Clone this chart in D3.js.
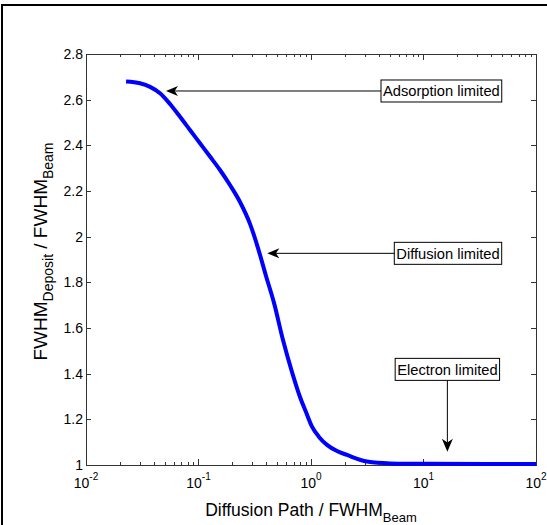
<!DOCTYPE html>
<html>
<head>
<meta charset="utf-8">
<script src="https://cdn.jsdelivr.net/npm/d3@7"></script>
<style>
  html, body { margin: 0; padding: 0; background: #fff; }
  svg { display: block; }
  text { font-family: Arial, "Liberation Sans", Helvetica, sans-serif; fill: #000; }
</style>
</head>
<body>
<svg id="chart" width="547" height="525"></svg>
<script>
// ---- data ----
const pathRatio = [0.0227, 0.0302, 0.0371, 0.0455, 0.0558, 0.0685, 0.0840, 0.1031, 0.1265, 0.1553, 0.1905, 0.2338, 0.2870, 0.3380, 0.3981, 0.4690, 0.5638, 0.6780, 0.7985, 0.9028, 1.0207, 1.1779, 1.3875, 1.7025, 2.0893, 3.146, 5.036, 11.42, 100];
const fwhmRatio = [2.680, 2.672, 2.656, 2.628, 2.581, 2.525, 2.467, 2.409, 2.351, 2.292, 2.226, 2.152, 2.056, 1.950, 1.828, 1.710, 1.547, 1.407, 1.298, 1.232, 1.168, 1.123, 1.088, 1.061, 1.044, 1.015, 1.007, 1.005, 1.004];

const yTicks = [1, 1.2, 1.4, 1.6, 1.8, 2, 2.2, 2.4, 2.6, 2.8];
const yTickLabels = ["1", "1.2", "1.4", "1.6", "1.8", "2", "2.2", "2.4", "2.6", "2.8"];
const xTicks = [0.01, 0.1, 1, 10, 100];
const xTickExponents = ["-2", "-1", "0", "1", "2"];

const annLabels = ["Adsorption limited", "Diffusion limited", "Electron limited"];
const annTipX = [0.0514, 0.409, 16.3];
const annTipY = [2.638, 1.927, 1.058];
const annBoxX = [4.19, 5.50, 16.3];     // left edge (horizontal arrows) or centre (vertical)
const annBoxY = [2.638, 1.927, 1.467];  // centre (horizontal) or top (vertical)
const annDir = ["left", "left", "down"];

// ---- layout ----
const svg = d3.select("#chart");
const L = 86, R = 536, T = 54, B = 465;
const x = d3.scaleLog().domain([0.01, 100]).range([L, R]);
const y = d3.scaleLinear().domain([1, 2.8]).range([B, T]);
const axisColor = "#333";

// outer frame (right/bottom edges fall outside the picture)
svg.append("rect").attr("x", 2).attr("y", 5).attr("width", 600).attr("height", 600)
  .attr("fill", "none").attr("stroke", "#000").attr("stroke-width", 2);

// axes box
svg.append("rect").attr("x", L).attr("y", T).attr("width", R - L).attr("height", B - T)
  .attr("fill", "none").attr("stroke", axisColor).attr("stroke-width", 1).attr("shape-rendering", "crispEdges");

// y ticks (both sides, inward)
const gy = svg.append("g").attr("shape-rendering", "crispEdges");
yTicks.forEach((v, i) => {
  const py = Math.round(y(v)) + 0.5;
  gy.append("line").attr("x1", L).attr("x2", L + 5).attr("y1", py).attr("y2", py).attr("stroke", axisColor);
  gy.append("line").attr("x1", R - 5).attr("x2", R).attr("y1", py).attr("y2", py).attr("stroke", axisColor);
  svg.append("text").attr("x", L - 3).attr("y", y(v)).attr("dy", "0.36em")
    .attr("text-anchor", "end").style("font-size", "14px").text(yTickLabels[i]);
});

// x ticks: major + minor, both sides, inward
const gx = svg.append("g").attr("shape-rendering", "crispEdges");
for (let e = -2; e < 2; e++) {
  for (let m = 1; m < 10; m++) {
    const v = m * Math.pow(10, e);
    const px = Math.round(x(v)) + 0.5;
    const len = m === 1 ? 6 : 3;
    gx.append("line").attr("x1", px).attr("x2", px).attr("y1", B).attr("y2", B - len).attr("stroke", axisColor);
    gx.append("line").attr("x1", px).attr("x2", px).attr("y1", T).attr("y2", T + len).attr("stroke", axisColor);
  }
}
xTicks.forEach((v, i) => {
  const t = svg.append("text").attr("x", x(v)).attr("y", 488).attr("text-anchor", "middle")
    .style("font-size", "14px");
  t.append("tspan").text("10");
  t.append("tspan").attr("dy", -8).style("font-size", "10px").text(xTickExponents[i]);
});

// curve
const pts = pathRatio.map((v, i) => [v, fwhmRatio[i]]);
svg.append("path").datum(pts)
  .attr("d", d3.line().x(d => x(d[0])).y(d => y(d[1])).curve(d3.curveMonotoneX))
  .attr("fill", "none").attr("stroke", "#0000ff").attr("stroke-width", 4)
  .attr("stroke-linejoin", "round");

// axis labels
const xl = svg.append("text").attr("x", (L + R) / 2).attr("y", 516).attr("text-anchor", "middle")
  .style("font-size", "17.5px");
xl.append("tspan").text("Diffusion Path / FWHM");
xl.append("tspan").attr("dy", 6).style("font-size", "13px").text("Beam");

const yl = svg.append("text").attr("transform", `translate(47,${(T + B) / 2 - 8}) rotate(-90)`)
  .attr("text-anchor", "middle").style("font-size", "19px");
yl.append("tspan").text("FWHM");
yl.append("tspan").attr("dy", 6).style("font-size", "14px").text("Deposit");
yl.append("tspan").attr("dy", -6).text(" / FWHM");
yl.append("tspan").attr("dy", 6).style("font-size", "14px").text("Beam");

// annotations
function arrowHead(g, tx, ty, angle, len, wid) {
  const p = [[0, 0], [-len, -wid / 2], [-len * 0.72, 0], [-len, wid / 2]];
  g.append("path").attr("d", "M" + p.map(q => q.join(",")).join("L") + "Z")
    .attr("transform", `translate(${tx},${ty}) rotate(${angle})`).attr("fill", "#000");
}
const ga = svg.append("g");
annLabels.forEach((lab, i) => {
  const tx = x(annTipX[i]), ty = y(annTipY[i]);
  const t = ga.append("text").style("font-size", "14.7px").text(lab);
  const w = t.node().getComputedTextLength() + 4, h = 22;
  let bx, by;
  if (annDir[i] === "left") { bx = x(annBoxX[i]); by = y(annBoxY[i]) - h / 2; }
  else { bx = x(annBoxX[i]) - w / 2; by = y(annBoxY[i]); }
  ga.insert("rect", "text").attr("x", bx).attr("y", by).attr("width", w).attr("height", h)
    .attr("fill", "#fff").attr("stroke", "#000").attr("stroke-width", 1);
  t.attr("x", bx + 2).attr("y", by + h / 2).attr("dy", "0.36em");
  if (annDir[i] === "left") {
    ga.append("line").attr("x1", bx).attr("y1", ty).attr("x2", tx + 8).attr("y2", ty)
      .attr("stroke", "#000").attr("stroke-width", 1);
    arrowHead(ga, tx, ty, 180, 12, 10);
  } else {
    ga.append("line").attr("x1", tx).attr("y1", by + h).attr("x2", tx).attr("y2", ty - 8)
      .attr("stroke", "#000").attr("stroke-width", 1);
    arrowHead(ga, tx, ty, 90, 13, 11);
  }
});
</script>
</body>
</html>
